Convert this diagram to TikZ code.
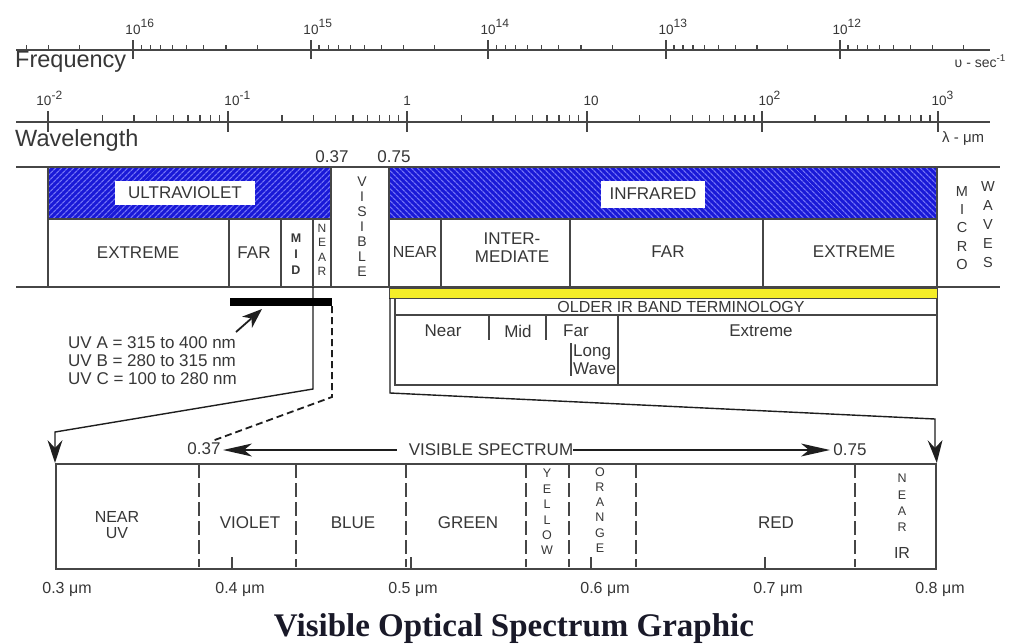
\documentclass[tikz,border=0pt]{standalone}
\usepackage{fontspec}
\setmainfont{Liberation Sans}
\newfontfamily\titlefont{Liberation Serif}
\usetikzlibrary{patterns.meta}
\definecolor{txt}{RGB}{55,55,55}
\definecolor{ln}{RGB}{70,70,70}
\definecolor{bandblue}{RGB}{25,25,215}
\definecolor{stripe}{RGB}{115,115,245}
\definecolor{ybar}{RGB}{245,238,40}
\definecolor{titlecol}{RGB}{25,25,40}
\definecolor{arrcol}{RGB}{30,30,30}
\begin{document}
\begin{tikzpicture}[x=1pt,y=-1pt,
  lbl/.style={text=txt, inner sep=0pt, font=\fontsize{17}{17}\selectfont},
  small/.style={text=txt, inner sep=0pt, font=\fontsize{16}{16}\selectfont},
  num/.style={text=txt, inner sep=0pt, font=\fontsize{13.5}{13.5}\selectfont},
  supn/.style={text=txt, inner sep=0pt, font=\fontsize{12}{12}\selectfont},
  axisline/.style={draw=ln, line width=1.3pt},
  tickl/.style={draw=ln, line width=1.3pt},
  bline/.style={draw=ln, line width=1.6pt},
  thinl/.style={draw=ln, line width=1.2pt},
  vdash/.style={draw=ln, line width=1.4pt, dash pattern=on 14pt off 5pt},
  vstack/.style={text=txt, inner sep=0pt, align=center},
  conn/.style={draw=arrcol, line width=1.4pt},
  headfill/.style={fill=arrcol},
  hatchA/.style={pattern={Lines[angle=45,distance=4pt,line width=1.3pt]}, pattern color=stripe},
  hatchB/.style={pattern={Lines[angle=-45,distance=4pt,line width=1.3pt]}, pattern color=stripe},
]
\useasboundingbox (0,0) rectangle (1016,643);
\fill[white] (0,0) rectangle (1016,643);

% ---------- Frequency axis ----------
\draw[axisline] (16,50) -- (990,50);
\foreach \e/\x in {16/133,15/311,14/488,13/666,12/840}{
  \draw[tickl] (\x,40) -- (\x,59);
  \node[num,anchor=base] (fb\e) at (\x,34) {10};
  \node[supn,anchor=base west] (fs\e) at (\x+7.5,27) {\e};
}
\foreach \ua/\ub in {133/311,311/488,488/666,666/840,840/1017}{
  \foreach \k in {2,...,9}{
    \pgfmathsetmacro\xx{\ua+(1-ln(\k)/ln(10))*(\ub-\ua)}
    \draw[tickl] (\xx,45) -- (\xx,51);
  }
}
\foreach \k in {2,3,4}{
  \pgfmathsetmacro\xx{133-ln(\k)/ln(10)*177}
  \draw[tickl] (\xx,45) -- (\xx,51);
}
\node[text=txt,inner sep=0pt,anchor=base west,font=\fontsize{23.5}{23.5}\selectfont] (freq) at (15,67) {Frequency};
\node[text=txt,inner sep=0pt,anchor=base east,font=\fontsize{14}{14}\selectfont] (fu) at (1006,67) {υ - sec\textsuperscript{-1}};

% ---------- Wavelength axis ----------
\draw[axisline] (16,122) -- (990,122);
\foreach \x in {48,228,407,587,762,938}{
  \draw[tickl] (\x,111) -- (\x,132);
}
\foreach \ua/\ub in {48/228,228/407,407/587,587/762,762/938}{
  \foreach \k in {2,...,9}{
    \pgfmathsetmacro\xx{\ua+ln(\k)/ln(10)*(\ub-\ua)}
    \draw[tickl] (\xx,115) -- (\xx,123);
  }
}
\node[num,anchor=base] (w1b) at (44,105) {10};
\node[supn,anchor=base west] (w1s) at (51.5,99) {-2};
\node[num,anchor=base] (w2b) at (232,105) {10};
\node[supn,anchor=base west] (w2s) at (239.5,99) {-1};
\node[num,anchor=base] (w3b) at (407,105) {1};
\node[num,anchor=base] (w4b) at (591,105) {10};
\node[num,anchor=base] (w5b) at (766,105) {10};
\node[supn,anchor=base west] (w5s) at (773.5,99) {2};
\node[num,anchor=base] (w6b) at (939,105) {10};
\node[supn,anchor=base west] (w6s) at (946.5,99) {3};
\node[text=txt,inner sep=0pt,anchor=base west,font=\fontsize{23.5}{23.5}\selectfont] (wave) at (15,146) {Wavelength};
\node[text=txt,inner sep=0pt,anchor=base west,font=\fontsize{15}{15}\selectfont] (wu) at (942,142) {λ - μm};
\node[lbl,anchor=base] (l037) at (332,162) {0.37};
\node[lbl,anchor=base] (l075) at (394,162) {0.75};

% ---------- Main band ----------
\fill[bandblue] (48,168) rectangle (331,219);
\fill[hatchA] (48,168) rectangle (331,219);
\fill[bandblue] (389,168) rectangle (937,219);
\fill[hatchB] (389,168) rectangle (937,219);
\draw[bline] (16,167) -- (1000,167);
\draw[bline] (16,287) -- (1000,287);
\draw[thinl] (48,167) -- (48,287);
\draw[thinl] (331,167) -- (331,287);
\draw[thinl] (389,167) -- (389,287);
\draw[thinl] (937,167) -- (937,288);
\draw[thinl] (48,219) -- (331,219);
\draw[thinl] (389,219) -- (937,219);
\foreach \x in {229,281,313}{\draw[thinl] (\x,219) -- (\x,287);}
\foreach \x in {441,570,763}{\draw[thinl] (\x,219) -- (\x,287);}

\node[lbl,fill=white,minimum width=140pt,minimum height=24pt] (uv) at (185,192.5) {ULTRAVIOLET};
\node[lbl,fill=white,minimum width=104pt,minimum height=27pt] (ir) at (653,194) {INFRARED};

\node[lbl] (uvext) at (138,253) {EXTREME};
\node[lbl] (uvfar) at (254,253) {FAR};
\node[vstack,font=\bfseries\fontsize{12.5}{16}\selectfont] (uvmid) at (296,254) {M\\I\\D};
\node[vstack,font=\fontsize{12}{14.3}\selectfont] (uvnear) at (322,250) {N\\E\\A\\R};
\node[vstack,font=\fontsize{14}{15}\selectfont] (visv) at (362,227) {V\\I\\S\\I\\B\\L\\E};
\node[small] (irnear) at (415,252) {NEAR};
\node[vstack,font=\fontsize{17}{18}\selectfont] (irint) at (512,248) {INTER-\\MEDIATE};
\node[lbl] (irfar) at (668,252) {FAR};
\node[lbl] (irext) at (854,252) {EXTREME};
\node[vstack,font=\fontsize{14.5}{18.3}\selectfont] (micro) at (962,228) {M\\I\\C\\R\\O};
\node[vstack,font=\fontsize{14.5}{19}\selectfont] (waves) at (988,225) {W\\A\\V\\E\\S};

% ---------- Older IR terminology ----------
\filldraw[fill=ybar,draw=ln,line width=1pt] (389,288) rectangle (937,298);
\draw[thinl] (395,298) -- (395,385) -- (937,385) -- (937,298);
\draw[thinl] (395,315) -- (937,315);
\draw[thinl] (489,315) -- (489,340);
\draw[thinl] (546,315) -- (546,340);
\draw[thinl] (618,315) -- (618,385);
\draw[thinl] (571,343) -- (571,376);
\node[small] (older) at (681,307) {OLDER IR BAND TERMINOLOGY};
\node[lbl] (onear) at (443,331) {Near};
\node[lbl] (omid) at (518,331) {Mid};
\node[lbl,anchor=west] (ofar) at (563,331) {Far};
\node[lbl,anchor=west] (olong) at (573,352) {Long};
\node[lbl,anchor=west] (owave) at (573,369) {Wave};
\node[lbl] (oext) at (761,331) {Extreme};

% ---------- UV notes ----------
\node[lbl,anchor=base west] (uva) at (68,348) {UV A = 315 to 400 nm};
\node[lbl,anchor=base west] (uvb) at (68,366) {UV B = 280 to 315 nm};
\node[lbl,anchor=base west] (uvc) at (68,384) {UV C = 100 to 280 nm};

% ---------- Visible spectrum box ----------
\node[draw=ln,line width=1.8pt,anchor=north west,minimum width=880pt,minimum height=105pt,inner sep=0pt] (visbox) at (55,463) {};
\foreach \x in {199,296,406,526,569,636,855}{\draw[vdash] (\x,464) -- (\x,567);}
\foreach \x in {232,411,591,765}{\draw[draw=ln,line width=2.2pt] (\x,557) -- (\x,568);}

% connectors (arrow heads drawn as filled darts)
\coordinate (uvS) at (313,287);
\coordinate (uvK) at (313,389);
\coordinate (uvD) at (55,432);
\coordinate (uvIn) at (55,448);
\draw[conn] (uvS) -- (uvK) -- (uvD) -- (uvIn);
\fill[headfill] (visbox.north west) -- (47.5,440) -- (uvIn) -- (62.5,440) -- cycle;

\coordinate (dS) at (332,306);
\coordinate (dK) at (332,397);
\coordinate (dE) at (212,441);
\draw[conn,line width=1.8pt,dash pattern=on 7pt off 4pt] (dS) -- (dK) -- (dE);
\fill[black] (230,298) rectangle (332,306);

\coordinate (irS) at (390,298);
\coordinate (irK) at (390,393);
\coordinate (irD) at (935,419);
\coordinate (irIn) at (935,448);
\draw[conn] (irS) -- (irK) -- (irD) -- (irIn);
\fill[headfill] (visbox.north east) -- (927.5,440) -- (irIn) -- (942.5,440) -- cycle;

\coordinate (uvArr) at (236,332);
\coordinate (barPt) at (262,309);
\coordinate (barIn) at (251.5,318.3);
\draw[conn,line width=1.8pt] (uvArr) -- (barIn);
\fill[headfill] (barPt) -- (252,327.9) -- (barIn) -- (242,316.7) -- cycle;

% visible spectrum labels
\node[lbl] (v037) at (204,449) {0.37};
\node[lbl] (vspec) at (491,450) {VISIBLE SPECTRUM};
\node[lbl] (v075) at (850,450) {0.75};
\coordinate (lTip) at (223,450);
\coordinate (lIn) at (244,450);
\coordinate (rTip) at (830,450);
\coordinate (rIn) at (809,450);
\draw[conn] ([xshift=-12pt]vspec.west) -- (lIn);
\fill[headfill] (lTip) -- (252,443.5) -- (lIn) -- (252,456.5) -- cycle;
\draw[conn] (vspec.east) -- (rIn);
\fill[headfill] (rTip) -- (801,443.5) -- (rIn) -- (801,456.5) -- cycle;

\node[vstack,font=\fontsize{16}{16}\selectfont] (nuv) at (117,525) {NEAR\\UV};
\node[lbl] (violet) at (250,523) {VIOLET};
\node[lbl] (blue) at (353,523) {BLUE};
\node[lbl] (green) at (468,523) {GREEN};
\node[vstack,font=\fontsize{12.5}{15.4}\selectfont] (yellow) at (547,512) {Y\\E\\L\\L\\O\\W};
\node[vstack,font=\fontsize{12.5}{15.2}\selectfont] (orange) at (600,510) {O\\R\\A\\N\\G\\E};
\node[lbl] (red) at (776,523) {RED};
\node[vstack,font=\fontsize{12.5}{16.3}\selectfont] (nir) at (902,503) {N\\E\\A\\R};
\node[small] (irr) at (902,553) {IR};

\node[small] (t03) at (67,589) {0.3 μm};
\node[small] (t04) at (240,589) {0.4 μm};
\node[small] (t05) at (413,589) {0.5 μm};
\node[small] (t06) at (605,589) {0.6 μm};
\node[small] (t07) at (778,589) {0.7 μm};
\node[small] (t08) at (940,589) {0.8 μm};

\node[anchor=base,inner sep=0pt,text=titlecol,font=\titlefont\bfseries\fontsize{33}{36}\selectfont] (title) at (514,636) {Visible Optical Spectrum Graphic};
\end{tikzpicture}
\end{document}
